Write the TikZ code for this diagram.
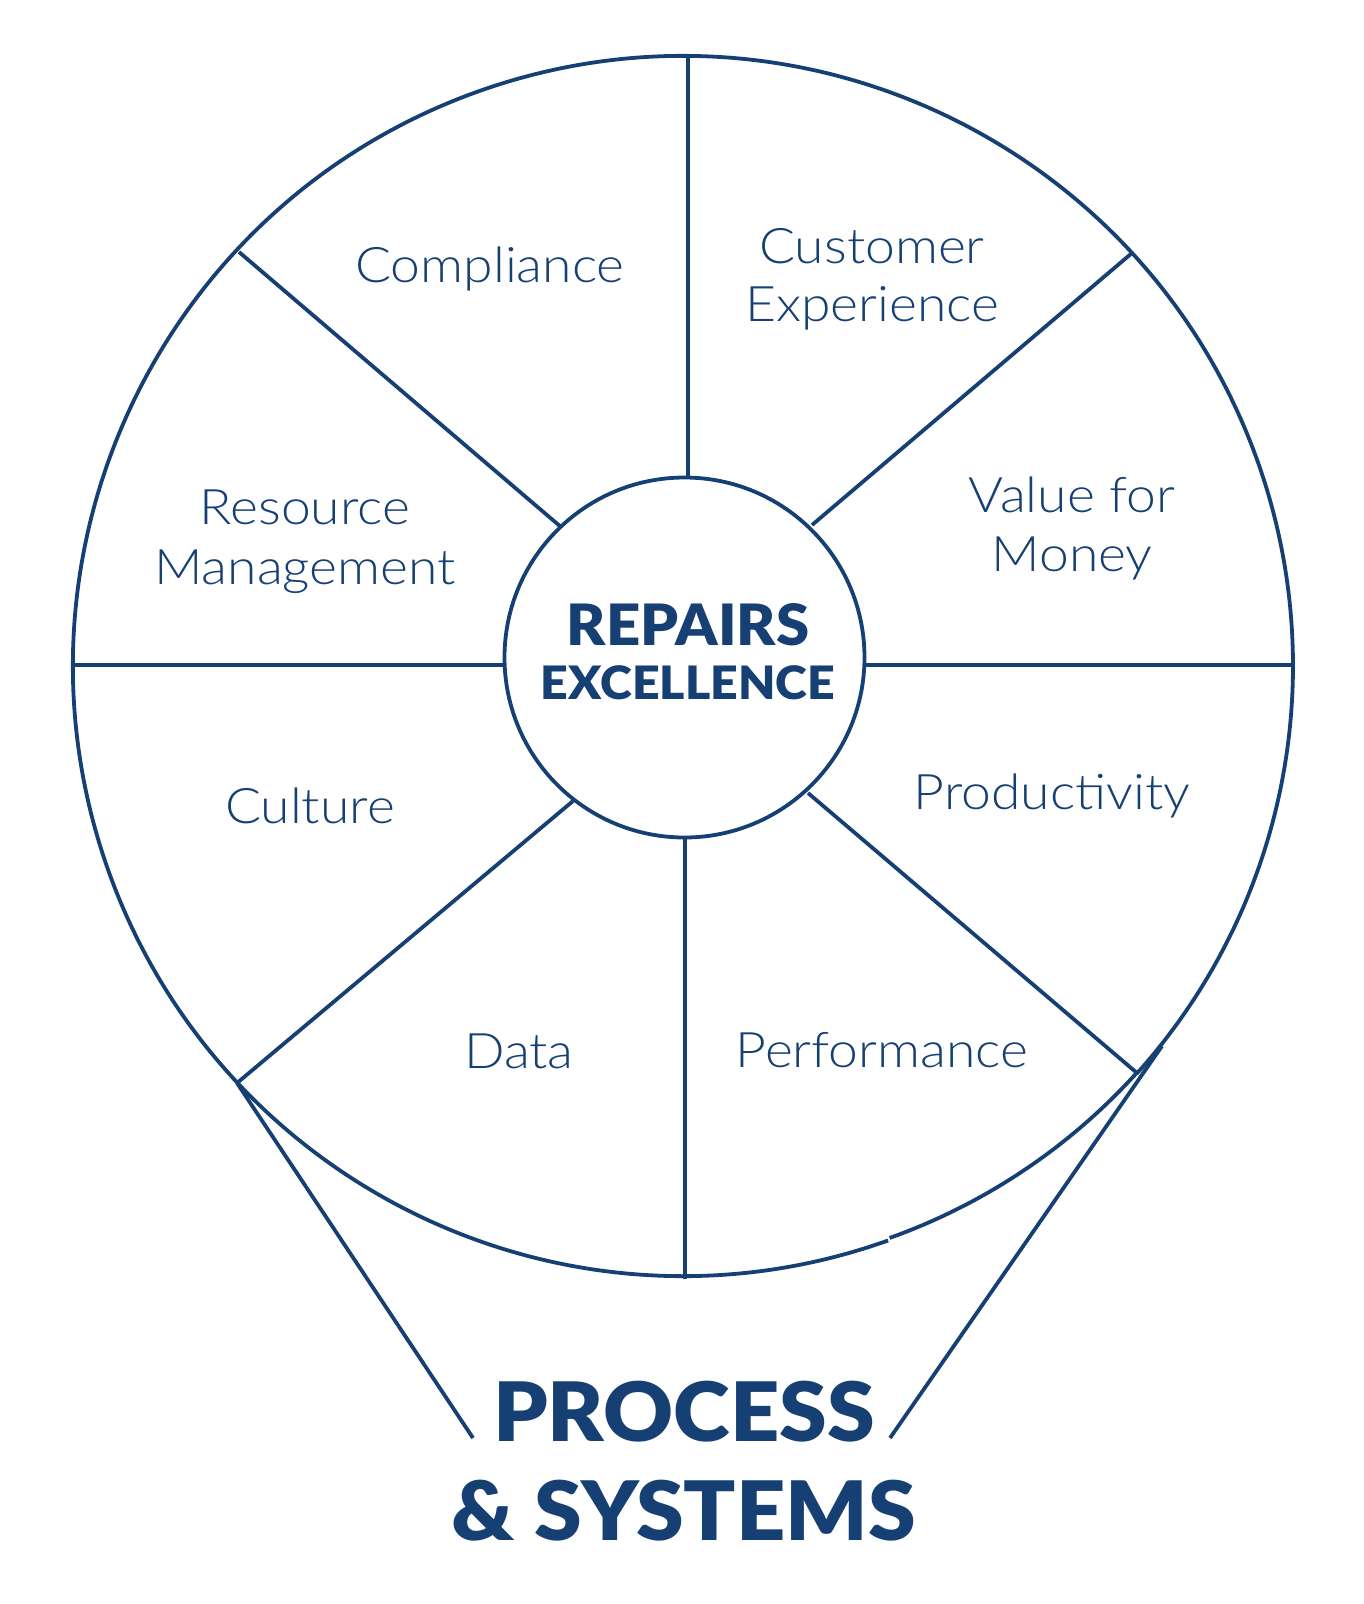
\documentclass[tikz,border=0pt]{standalone}
\usepackage{fontspec}
\newfontfamily\lblfont{Lato Light}[FakeStretch=1.09]
\newfontfamily\hdfont{Lato Black}[FakeStretch=1.05]
\definecolor{navy}{RGB}{22,64,115}
\begin{document}
\begin{tikzpicture}[x=1pt,y=-1pt,
  ln/.style={draw=navy,line width=3.8pt},
  lbl/.style={text=navy,font=\lblfont\fontsize{49}{59}\selectfont,align=center,inner sep=0pt,anchor=base},
  hd/.style={text=navy,inner sep=0pt,anchor=base},
  hub/.style={circle,draw=navy,line width=3.8pt,minimum size=360pt,inner sep=0pt}]
\useasboundingbox (0,0) rectangle (1363,1604);
% outer wheel (with the small step near the bottom right)
\draw[ln] (683,666) ++(70.35:610) arc[start angle=70.35,end angle=401.9,radius=610];
\draw[ln,shift={(1.5,-2.5)}] (683,666) ++(41.9:610) arc[start angle=41.9,end angle=70.35,radius=610];
% hub
\node[hub] (hub) at (684.5,657.5) {};
% spoke ends
\coordinate (i1) at (688,478);  \coordinate (o1) at (688,54);
\coordinate (i2) at (812,525);  \coordinate (o2) at (1132,253);
\coordinate (i3) at (864,665);  \coordinate (o3) at (1295,665);
\coordinate (i4) at (808,793);  \coordinate (o4) at (1137,1073);
\coordinate (i5) at (685,837);  \coordinate (o5) at (685,1279);
\coordinate (i6) at (573,801);  \coordinate (o6) at (237,1083);
\coordinate (i7) at (505,665);  \coordinate (o7) at (73,665);
\coordinate (i8) at (561,527);  \coordinate (o8) at (239,252);
\foreach \k in {1,...,8} {\draw[ln] (i\k) -- (o\k);}
% funnel lines
\coordinate (fl1) at (473,1438);
\coordinate (fr0) at (1162,1046); \coordinate (fr1) at (890,1438);
\draw[ln] (o6) -- (fl1);
\draw[ln] (fr0) -- (fr1);
% labels
\node[lbl] (comp) at (490,282) {Compliance};
\node[lbl] (cust1) at (872,263) {Customer};
\node[lbl] (cust2) at (872,321) {Experience};
\node[lbl] (res1) at (305,524) {Resource};
\node[lbl] (res2) at (305,584) {Management};
\node[lbl] (val1) at (1072,512) {Value for};
\node[lbl] (val2) at (1072,571) {Money};
\node[lbl] (cult) at (310,823) {Culture};
\node[lbl] (prod) at (1052,809) {Productivity};
\node[lbl] (data) at (519,1068) {Data};
\node[lbl] (perf) at (882,1067) {Performance};
% centre title
\node[hd,font=\hdfont\fontsize{57}{60}\selectfont] (rep) at (688,645) {REPAIRS};
\node[hd,font=\hdfont\fontsize{46}{50}\selectfont] (exc) at (688,699) {EXCELLENCE};
% bottom title
\node[hd,font=\hdfont\fontsize{82}{90}\selectfont] (proc) at (684,1441) {PROCESS};
\node[hd,font=\hdfont\fontsize{82}{90}\selectfont] (sys) at (684,1540) {\&~SYSTEMS};
\end{tikzpicture}
\end{document}
